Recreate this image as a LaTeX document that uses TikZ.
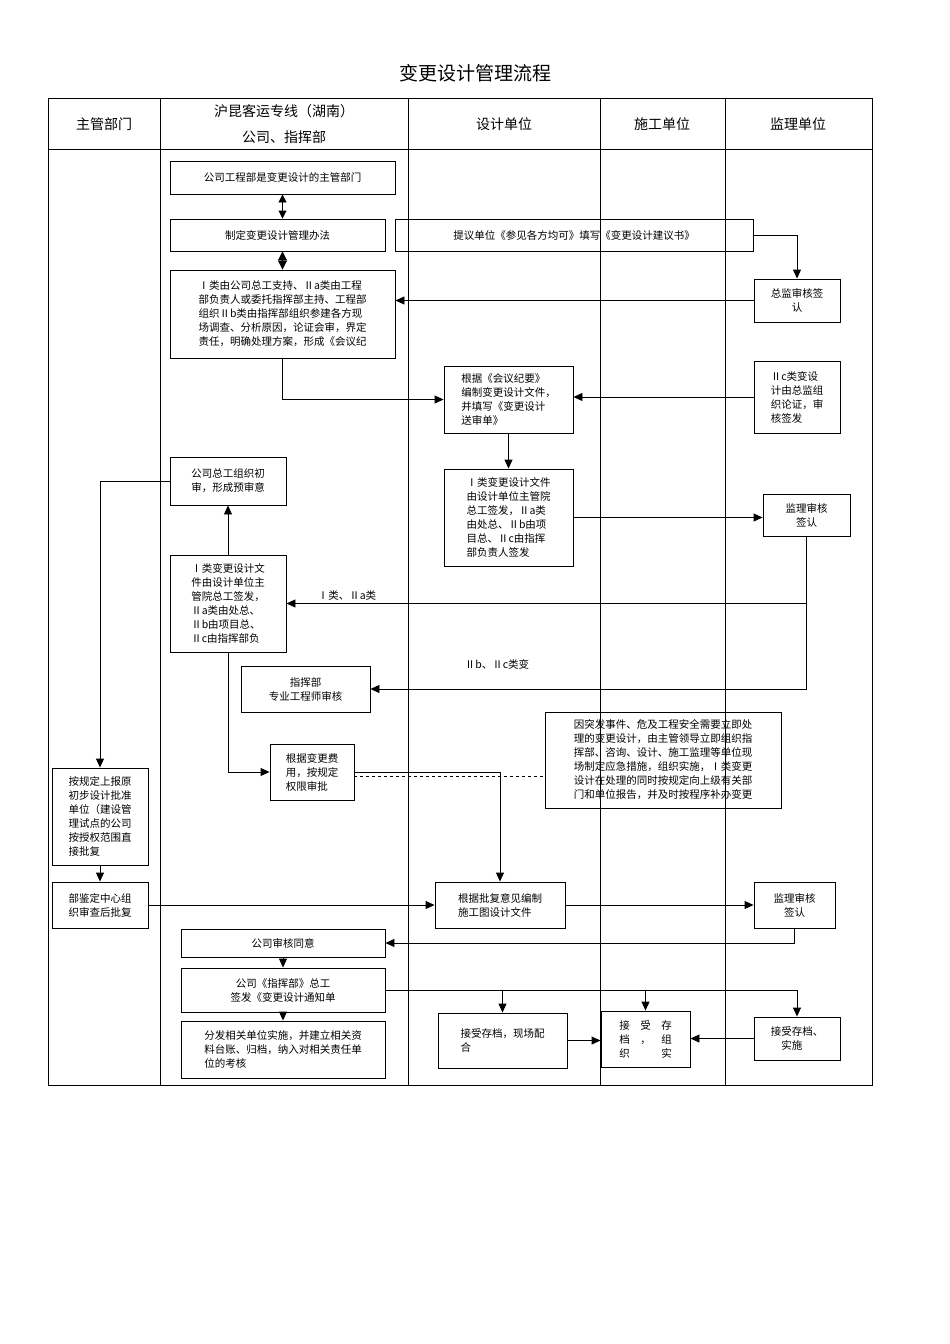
\documentclass[tikz,border=0pt]{standalone}
\usepackage{fontspec}
\setmainfont{Noto Sans CJK SC}
\usetikzlibrary{arrows.meta}
\usetikzlibrary{calc}
\tikzset{
  box/.style={draw, line width=0.9pt, inner sep=0pt, align=left, font=\fontsize{10.5}{14}\selectfont},
  cbox/.style={box, align=center},
  arr/.style={line width=0.9pt, -{Triangle[length=9pt,width=8pt]}},
  link/.style={line width=0.9pt},
  lane/.style={line width=0.8pt}
}
\begin{document}
\begin{tikzpicture}[x=1pt,y=-1pt]
  \useasboundingbox (0,0) rectangle (950,1344);
  % title and lanes
  \node[font=\fontsize{19}{22}\selectfont] (title) at (475,73) {变更设计管理流程};
  \draw[lane] (48,98) rectangle (872,1085);
  \draw[lane] (48,149) -- (872,149);
  \foreach \x in {160,408,600,725} {
    \draw[lane] (\x,98) -- (\x,1085);
  }
  \node[font=\fontsize{14}{22}\selectfont] (h1) at (104,124) {主管部门};
  \node[font=\fontsize{14}{26}\selectfont,align=center] (h2) at (284,124) {沪昆客运专线（湖南）\\公司、指挥部};
  \node[font=\fontsize{14}{22}\selectfont] (h3) at (504,124) {设计单位};
  \node[font=\fontsize{14}{22}\selectfont] (h4) at (662,124) {施工单位};
  \node[font=\fontsize{14}{22}\selectfont] (h5) at (798,124) {监理单位};

  % boxes
  \node[cbox, minimum width=225, minimum height=33] (A) at (282.5,177.5) {公司工程部是变更设计的主管部门};
  \node[cbox, minimum width=215, minimum height=32] (B) at (277.5,235) {制定变更设计管理办法};
  \node[cbox, minimum width=358, minimum height=32] (P) at (574,235) {提议单位《参见各方均可》填写《变更设计建议书》};
  \node[box, minimum width=225, minimum height=88] (C) at (282.5,314) {Ⅰ类由公司总工支持、Ⅱa类由工程\\部负责人或委托指挥部主持、工程部\\组织Ⅱb类由指挥部组织参建各方现\\场调查、分析原因，论证会审，界定\\责任，明确处理方案，形成《会议纪};
  \node[cbox, minimum width=86, minimum height=43] (Z1) at (797,300.5) {总监审核签\\认};
  \node[box, minimum width=129, minimum height=67] (D) at (508.5,399.5) {根据《会议纪要》\\编制变更设计文件，\\并填写《变更设计\\送审单》};
  \node[box, minimum width=86, minimum height=72] (Z2) at (797,397) {Ⅱc类变设\\计由总监组\\织论证，审\\核签发};
  \node[box, minimum width=116, minimum height=48] (E) at (228,481) {公司总工组织初\\审，形成预审意};
  \node[box, minimum width=129, minimum height=97] (F) at (508.5,517.5) {Ⅰ类变更设计文件\\由设计单位主管院\\总工签发，Ⅱa类\\由处总、Ⅱb由项\\目总、Ⅱc由指挥\\部负责人签发};
  \node[cbox, minimum width=87, minimum height=42] (Z3) at (806.5,515) {监理审核\\签认};
  \node[box, minimum width=116, minimum height=97] (G) at (228,603.5) {Ⅰ类变更设计文\\件由设计单位主\\管院总工签发，\\Ⅱa类由处总、\\Ⅱb由项目总、\\Ⅱc由指挥部负};
  \node[cbox, minimum width=129, minimum height=46] (H) at (305.5,689) {指挥部\\专业工程师审核};
  \node[box, minimum width=84, minimum height=56] (I) at (312,772) {根据变更费\\用，按规定\\权限审批};
  \node[box, minimum width=236, minimum height=96] (J) at (663,760) {因突发事件、危及工程安全需要立即处\\理的变更设计，由主管领导立即组织指\\挥部、咨询、设计、施工监理等单位现\\场制定应急措施，组织实施，Ⅰ类变更\\设计在处理的同时按规定向上级有关部\\门和单位报告，并及时按程序补办变更};
  \node[box, minimum width=96, minimum height=97] (K) at (100,816.5) {按规定上报原\\初步设计批准\\单位（建设管\\理试点的公司\\按授权范围直\\接批复};
  \node[box, minimum width=96, minimum height=46] (L) at (100,905) {部鉴定中心组\\织审查后批复};
  \node[box, minimum width=130, minimum height=46] (M) at (500,905) {根据批复意见编制\\施工图设计文件};
  \node[cbox, minimum width=81, minimum height=46] (Z4) at (794.5,905) {监理审核\\签认};
  \node[cbox, minimum width=204, minimum height=28] (N) at (283,943) {公司审核同意};
  \node[cbox, minimum width=204, minimum height=44] (O) at (283,990) {公司《指挥部》总工\\签发《变更设计通知单};
  \node[box, minimum width=204, minimum height=57] (Q) at (283,1049.5) {分发相关单位实施，并建立相关资\\料台账、归档，纳入对相关责任单\\位的考核};
  \node[box, minimum width=129, minimum height=55] (R) at (502.5,1040.5) {接受存档，现场配\\合};
  \node[box, minimum width=89, minimum height=56] (S) at (645.5,1039) {接　受　存\\档　，　组\\织　　　实};
  \node[box, minimum width=86, minimum height=43] (T) at (797,1038.5) {接受存档、\\　实施};

  % labels
  \node[font=\fontsize{10.5}{14}\selectfont] (l1) at (347,596) {Ⅰ类、Ⅱa类};
  \node[font=\fontsize{10.5}{14}\selectfont] (l2) at (497,664) {Ⅱb、Ⅱc类变};

  % connectors
  \draw[line width=0.9pt, {Triangle[length=8pt,width=8pt]}-{Triangle[length=8pt,width=8pt]}] (A) -- (A |- B.north);
  \draw[line width=0.9pt, {Triangle[length=9pt,width=9pt]}-{Triangle[length=9pt,width=9pt]}] (B.south -| A) -- (A |- C.north);
  \draw[arr] (P.east) -| (Z1.north);
  \draw[arr] (Z1.west) -- (Z1.west -| C.east);
  \draw[arr] (C.south) |- (D.west);
  \draw[arr] (Z2.west) -- (Z2.west -| D.east);
  \draw[arr] (D) -- (F);
  \draw[arr] (F.east) -- (F.east -| Z3.west);
  \draw[arr] (Z3.south) |- (G.east);
  \draw[arr] (Z3.south) |- (H.east);
  \draw[arr] (G) -- (E);
  \draw[arr] (E.west) -| (K.north);
  \draw[arr] (G.south) |- (I.west);
  \draw[arr] (I.east) -| (M.north);
  \draw[link, dashed] ([yshift=-4pt]I.east) -- ([yshift=-4pt]I.east -| J.west);
  \draw[arr] (K) -- (L);
  \draw[arr] (L) -- (M);
  \draw[arr] (M) -- (Z4);
  \draw[arr] (Z4.south) |- (N.east);
  \draw[arr] (N) -- (O);
  \draw[arr] (O) -- (Q);
  \draw[link] (O.east) -- (O.east -| T.north);
  \draw[arr] (O.east -| R.north) -- (R.north);
  \draw[arr] (O.east -| S.north) -- (S.north);
  \draw[arr] (O.east -| T.north) -- (T.north);
  \draw[arr] (R.east) -- (R.east -| S.west);
  \draw[arr] (T.west) -- (T.west -| S.east);
\end{tikzpicture}
\end{document}
